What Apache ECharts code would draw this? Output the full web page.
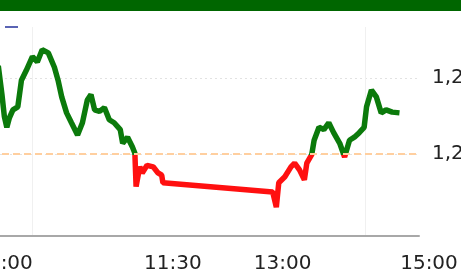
<!DOCTYPE html>
<html>
<head>
<meta charset="utf-8">
<script src="https://cdn.jsdelivr.net/npm/echarts@6/dist/echarts.min.js"></script>
<style>
    html, body { margin: 0; padding: 0; background: #fff; }
    #main { width: 461px; height: 277px; }
</style>
</head>
<body>
<div id="main"></div>
<script>
// chỉ số trong phiên: giờ và giá trị
var times = ['09:15', '09:18', '09:20', '09:22', '09:24', '09:27', '09:31', '09:34', '09:38', '09:43',
    '09:47', '09:51', '09:56', '10:01', '10:04', '10:07', '10:11', '10:15', '10:20', '10:24',
    '10:28', '10:31', '10:34', '10:38', '10:42', '10:46', '10:50', '10:55', '10:57', '11:01',
    '11:05', '11:07', '11:08', '11:11', '11:13', '11:17', '11:22', '11:26', '11:29', '11:30',
    '13:00', '13:03', '13:05', '13:10', '13:15', '13:18', '13:22', '13:26', '13:28', '13:32',
    '13:34', '13:38', '13:42', '13:46', '13:50', '13:55', '13:59', '14:03', '14:07', '14:11',
    '14:15', '14:17', '14:21', '14:25', '14:29', '14:33', '14:38', '14:44'];
var values = [1241.6, 1237.8, 1234.9, 1233.5, 1234.7, 1235.8, 1236.2, 1239.7, 1241.0, 1242.8,
    1242.1, 1243.7, 1243.3, 1241.4, 1239.7, 1237.5, 1235.4, 1234.1, 1232.5, 1234.1,
    1237.1, 1237.8, 1235.8, 1235.6, 1236.1, 1234.5, 1234.1, 1233.2, 1231.4, 1232.2,
    1230.9, 1230.1, 1225.7, 1228.3, 1227.5, 1228.5, 1228.3, 1227.5, 1227.2, 1226.2,
    1225.0, 1223.0, 1226.2, 1227.0, 1228.3, 1228.8, 1227.9, 1226.6, 1228.8, 1229.9,
    1231.8, 1233.5, 1233.2, 1234.1, 1232.8, 1231.4, 1229.6, 1231.8, 1232.2, 1232.8,
    1233.5, 1236.2, 1238.4, 1237.5, 1235.4, 1235.8, 1235.5, 1235.4];
var refValue = 1230;                 // tham chiếu (đường đứt nét)
var yTicks = [1230, 1240];
var xGridTimes = ['09:43', '14:16'];
var xLabelTimes = ['09:00', '11:30', '13:00', '15:00'];

function toMin(s) {
    var p = s.split(':');
    return parseInt(p[0], 10) * 60 + parseInt(p[1], 10);
}

function fmtTime(v) {
    var h = Math.floor(v / 60), m = v % 60;
    return (h < 10 ? '0' : '') + h + ':' + (m < 10 ? '0' : '') + m;
}

function show() {
    var myChart = echarts.init(document.getElementById('main'));

    var data = [];
    for (var i = 0; i < times.length; i++) {
        data.push([toMin(times[i]), values[i]]);
    }
    var firstLabel = toMin(xLabelTimes[0]);

    // xanh trên tham chiếu, đỏ dưới tham chiếu
    var hi = Math.max.apply(null, values), lo = Math.min.apply(null, values);
    var cut = (hi - refValue) / (hi - lo);
    var lineColor = new echarts.graphic.LinearGradient(0, 0, 0, 1, [
        { offset: 0, color: '#0b7a0b' },
        { offset: cut, color: '#0b7a0b' },
        { offset: cut, color: '#ff1010' },
        { offset: 1, color: '#ff1010' }
    ]);

    var option = {
        animation: false,
        graphic: [
            { type: 'rect', shape: { x: 0, y: 0, width: 461, height: 11 }, style: { fill: '#006600' } },
            { type: 'line', shape: { x1: 5, y1: 27, x2: 18, y2: 27 }, style: { stroke: '#5a64b4', lineWidth: 2 } }
        ],
        grid: { left: -20, right: 42, top: 27, bottom: 41, outerBoundsMode: 'none' },
        xAxis: {
            type: 'value',
            min: toMin(xLabelTimes[0]),
            max: toMin(xLabelTimes[xLabelTimes.length - 1]),
            axisLine: { show: true, lineStyle: { color: '#a8a8a8', width: 2 } },
            axisTick: { show: false, customValues: xGridTimes.map(toMin) },
            splitLine: { show: true, lineStyle: { color: '#f0f0f0', width: 1 } },
            axisLabel: {
                customValues: xLabelTimes.map(toMin),
                margin: 18,
                fontFamily: 'DejaVu Sans',
                fontSize: 20,
                color: '#222',
                formatter: function (v) {
                    if (v === firstLabel) return '{f|' + fmtTime(v) + '}';
                    return '{s|' + fmtTime(v) + '}';
                },
                rich: {
                    f: { padding: [0, 0, 0, 48], fontFamily: 'DejaVu Sans', fontSize: 20, color: '#222' },
                    s: { padding: [0, 0, 0, 20], fontFamily: 'DejaVu Sans', fontSize: 20, color: '#222' }
                }
            }
        },
        yAxis: {
            type: 'value',
            position: 'right',
            min: 1219.2,
            max: 1246.7,
            axisLine: { show: false },
            axisTick: { show: false, customValues: yTicks },
            splitLine: { show: true, lineStyle: { color: '#e2e2e2', type: [2, 3], width: 1 } },
            axisLabel: {
                customValues: yTicks,
                margin: 13,
                padding: [5, 0, 0, 0],
                fontFamily: 'DejaVu Sans',
                fontSize: 20,
                color: '#222',
                formatter: function (v) {
                    return v.toLocaleString('en-US', { minimumFractionDigits: 2 });
                }
            }
        },
        series: [
            {
                type: 'line',
                data: data,
                showSymbol: false,
                lineStyle: { width: 5.5, color: lineColor },
                markLine: {
                    silent: true,
                    symbol: 'none',
                    label: { show: false },
                    lineStyle: { color: '#ffcf9f', type: [7, 4], width: 2 },
                    data: [{ yAxis: refValue }]
                }
            }
        ]
    };

    myChart.setOption(option);
}

show();
</script>
</body>
</html>
